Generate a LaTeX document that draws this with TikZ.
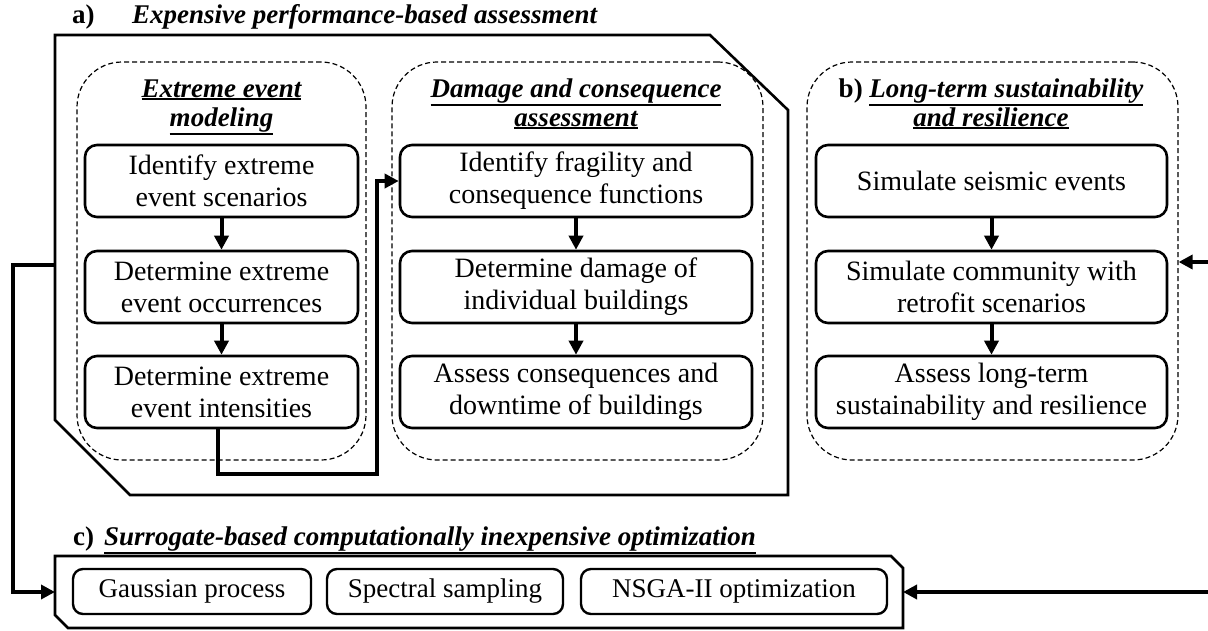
\documentclass[tikz,border=0pt]{standalone}
\usepackage{fontspec}
\setmainfont{Liberation Serif}
\usetikzlibrary{arrows.meta}
% underline placed just below the deepest descender of the text
\newcommand\thickul[1]{\setbox0\hbox{#1}\rlap{\rule[-\dimexpr\dp0+3pt\relax]{\wd0}{2pt}}\box0}
\begin{document}
\begin{tikzpicture}[x=1pt,y=-1pt,
  stepbox/.style={draw, line width=2.6pt, rounded corners=12pt, minimum height=72pt,
    inner sep=0pt, align=center, font=\fontsize{28}{32}\selectfont},
  optbox/.style={draw, line width=2.4pt, rounded corners=10pt, minimum height=45pt,
    inner sep=0pt, align=center, font=\fontsize{27}{30}\selectfont},
  groupbox/.style={draw, line width=1.2pt, dash pattern=on 5pt off 3pt,
    rounded corners=45pt, minimum height=398pt, inner sep=0pt},
  frame/.style={line width=2.6pt, line join=miter},
  link/.style={line width=4pt, -{Triangle[length=14pt,width=14pt]}},
  heading/.style={font=\fontsize{27}{28}\selectfont\bfseries\itshape, inner sep=0pt},
  tag/.style={font=\fontsize{27}{28}\selectfont\bfseries, inner sep=0pt}]
\useasboundingbox (0,0) rectangle (1208,630);

% --- a) expensive performance-based assessment ---
\node[tag, anchor=base west] (ta) at (72,23) {a)};
\node[heading, anchor=base west] (tatext) at (132,23) {Expensive performance-based assessment};
\draw[frame] (55,35) -- (710,35) -- (788,110) -- (788,495) -- (130,495) -- (55,420) -- cycle;
\coordinate (aL) at (55,265);

% extreme event modeling
\node[groupbox, minimum width=289pt] (g1) at (221.5,261) {};
\node[heading, anchor=base] (g1t1) at (221.5,97) {\thickul{Extreme event}};
\node[heading, anchor=base] (g1t2) at (221.5,126) {\thickul{modeling}};
\node[stepbox, minimum width=273pt] (e1) at (221.5,181) {Identify extreme\\event scenarios};
\node[stepbox, minimum width=273pt] (e2) at (221.5,287) {Determine extreme\\event occurrences};
\node[stepbox, minimum width=273pt] (e3) at (221.5,392) {Determine extreme\\event intensities};
\draw[link] (e1) -- (e2);
\draw[link] (e2) -- (e3);

% damage and consequence assessment
\node[groupbox, minimum width=371pt] (g2) at (577.5,261) {};
\node[heading, anchor=base] (g2t1) at (576,97) {\thickul{Damage and consequence}};
\node[heading, anchor=base] (g2t2) at (576,126) {\thickul{assessment}};
\node[stepbox, minimum width=352pt] (d1) at (576,181) {Identify fragility and\\consequence functions};
\node[stepbox, minimum width=352pt] (d2) at (576,287) {Determine damage of\\individual buildings};
\node[stepbox, minimum width=352pt] (d3) at (576,392) {Assess consequences and\\downtime of buildings};
\draw[link] (d1) -- (d2);
\draw[link] (d2) -- (d3);
\draw[link] ([xshift=-4pt]e3.south) -- ++(0,45) -| ([xshift=-22pt]d1.west) -- (d1.west);

% --- b) long-term sustainability and resilience ---
\node[groupbox, minimum width=371pt] (gb) at (992.5,261) {};
\node[heading, anchor=base] (gbt1) at (991,97) {{\upshape b)} \thickul{Long-term sustainability}};
\node[heading, anchor=base] (gbt2) at (991,126) {\thickul{and resilience}};
\node[stepbox, minimum width=351pt] (s1) at (991.5,181) {Simulate seismic events};
\node[stepbox, minimum width=351pt] (s2) at (991.5,287) {Simulate community with\\retrofit scenarios};
\node[stepbox, minimum width=351pt] (s3) at (991.5,392) {Assess long-term\\sustainability and resilience};
\draw[link] (s1) -- (s2);
\draw[link] (s2) -- (s3);
\coordinate (rb) at (1208,262);
\draw[link] (rb) -- (rb -| gb.east);

% --- c) surrogate-based optimization ---
\node[heading, anchor=base west] (tc) at (73,545) {{\upshape c)}\hspace{10pt}\thickul{Surrogate-based computationally inexpensive optimization}};
\draw[frame] (55,556) -- (891,556) -- (903,568) -- (903,628) -- (68,628) -- (55,615) -- cycle;
\coordinate (cL) at (55,592);
\coordinate (cR) at (903,592);
\node[optbox, minimum width=238pt] (o1) at (192,591.5) {Gaussian process};
\node[optbox, minimum width=236pt] (o2) at (445,591.5) {Spectral sampling};
\node[optbox, minimum width=306pt] (o3) at (734,591.5) {NSGA-II optimization};
\coordinate (rc) at (1208,592);
\draw[link] (rc) -- (cR);

% feedback from the assessment to the optimization
\draw[link] (aL) -- ++(-42,0) |- (cL);
\end{tikzpicture}
\end{document}
